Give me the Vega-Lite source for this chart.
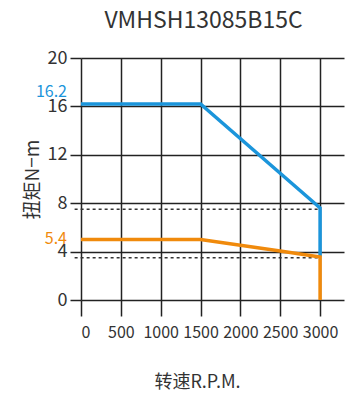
{
  "$schema": "https://vega.github.io/schema/vega-lite/v6.json",
  "autosize": "none",
  "width": 263,
  "height": 242,
  "padding": {"left": 81, "top": 58, "right": 1, "bottom": 95},
  "background": "white",
  "config": {
    "font": "Noto Sans CJK SC",
    "view": {"stroke": null},
    "axis": {
      "gridColor": "#222222",
      "gridWidth": 1.5,
      "gridOpacity": 1,
      "tickColor": "#222222",
      "tickWidth": 1.5,
      "domain": false,
      "labelColor": "#333333",
      "titleColor": "#333333",
      "labelFont": "Noto Sans CJK SC",
      "titleFont": "Noto Sans CJK SC",
      "titleFontWeight": "normal"
    }
  },
  "title": {
    "text": "VMHSH13085B15C",
    "fontSize": 23,
    "fontWeight": "normal",
    "color": "#333333",
    "font": "Noto Sans CJK SC",
    "anchor": "middle",
    "frame": "group",
    "baseline": "middle",
    "offset": 5,
    "dx": -9
  },
  "datasets": {
    "curves": [
      {"series": "峰值", "rpm": 0, "torque": 16.2, "order": 1},
      {"series": "峰值", "rpm": 1500, "torque": 16.2, "order": 2},
      {"series": "峰值", "rpm": 3000, "torque": 7.6, "order": 3},
      {"series": "峰值", "rpm": 3000, "torque": 3.6, "order": 4},
      {"series": "额定", "rpm": 0, "torque": 5.0, "order": 1},
      {"series": "额定", "rpm": 1500, "torque": 5.0, "order": 2},
      {"series": "额定", "rpm": 2500, "torque": 4.05, "order": 3},
      {"series": "额定", "rpm": 3000, "torque": 3.55, "order": 4},
      {"series": "额定", "rpm": 3000, "torque": 0, "order": 5}
    ],
    "refs": [
      {"from": -80, "to": 3000, "torque": 7.5},
      {"from": -80, "to": 3000, "torque": 3.5}
    ],
    "labels": [
      {"series": "峰值", "rpm": 0, "torque": 16.2, "text": "16.2"},
      {"series": "额定", "rpm": 0, "torque": 5.4, "text": "5.4"}
    ]
  },
  "layer": [
    {
      "data": {"name": "refs"},
      "mark": {"type": "rule", "strokeDash": [3, 3], "strokeWidth": 1.5, "color": "#333333"},
      "encoding": {
        "x": {"field": "from", "type": "quantitative", "scale": {"domain": [0, 3300], "nice": false},
          "axis": {"values": [0, 500, 1000, 1500, 2000, 2500, 3000], "format": "d", "tickSize": 16, "labelFontSize": 16, "labelPadding": 8,
            "title": "转速R.P.M.", "titleFontSize": 18, "titleX": 116, "titleY": 82, "titleBaseline": "middle", "titleAnchor": "start", "titleAlign": "center"}},
        "x2": {"field": "to"},
        "y": {"field": "torque", "type": "quantitative", "scale": {"domain": [0, 20], "nice": false},
          "axis": {"values": [0, 4, 8, 12, 16, 20], "tickSize": 11, "labelFontSize": 18, "labelPadding": 3,
            "title": "扭矩N−m", "titleFontSize": 19, "titlePadding": 5}}
      }
    },
    {
      "data": {"name": "curves"},
      "mark": {"type": "line", "strokeWidth": 3.5, "strokeJoin": "miter"},
      "encoding": {
        "x": {"field": "rpm", "type": "quantitative"},
        "y": {"field": "torque", "type": "quantitative"},
        "order": {"field": "order"},
        "color": {"field": "series", "type": "nominal", "scale": {"domain": ["峰值", "额定"], "range": ["#1b95db", "#f08a0c"]}, "legend": null}
      }
    },
    {
      "data": {"name": "labels"},
      "transform": [{"filter": "datum.text === '16.2'"}],
      "mark": {"type": "text", "align": "right", "baseline": "middle", "fontSize": 16, "dx": -14, "dy": -12},
      "encoding": {
        "x": {"field": "rpm", "type": "quantitative"},
        "y": {"field": "torque", "type": "quantitative"},
        "text": {"field": "text"},
        "color": {"field": "series", "type": "nominal", "legend": null}
      }
    },
    {
      "data": {"name": "labels"},
      "transform": [{"filter": "datum.text === '5.4'"}],
      "mark": {"type": "text", "align": "right", "baseline": "middle", "fontSize": 16, "dx": -14, "dy": 4},
      "encoding": {
        "x": {"field": "rpm", "type": "quantitative"},
        "y": {"field": "torque", "type": "quantitative"},
        "text": {"field": "text"},
        "color": {"field": "series", "type": "nominal", "legend": null}
      }
    }
  ]
}
